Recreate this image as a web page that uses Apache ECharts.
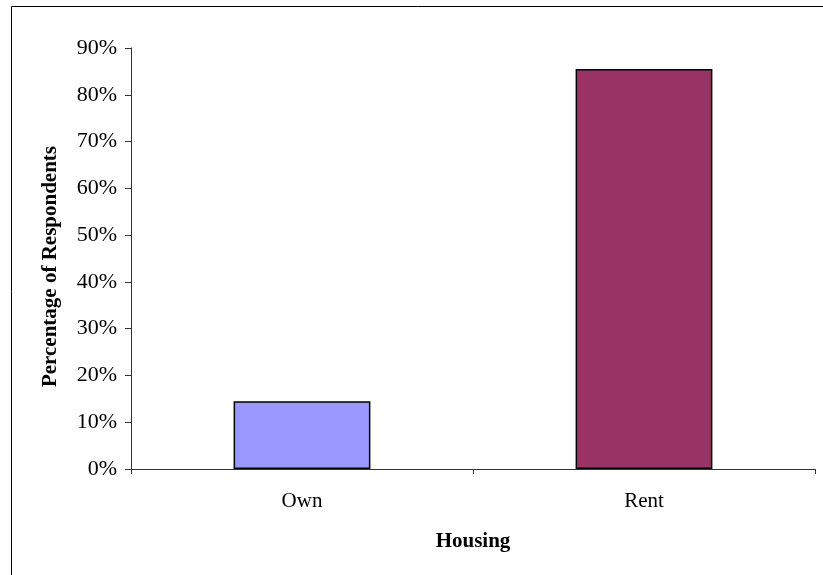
<!DOCTYPE html>
<html>
<head>
<meta charset="utf-8">
<script src="https://cdn.jsdelivr.net/npm/echarts@6/dist/echarts.min.js"></script>
<style>
html,body{margin:0;padding:0;background:#fff;}
#chart{width:823px;height:575px;}
</style>
</head>
<body>
<div id="chart"></div>
<script>
var categories = ['Own', 'Rent'];
var values = [14.5, 85.5];
var barColors = ['#9999FF', '#993366'];
var yTicks = { min: 0, max: 90, interval: 10 };
var xTitle = 'Housing';
var yTitle = 'Percentage of Respondents';

var font = '"Liberation Serif", "Times New Roman", serif';
var chart = echarts.init(document.getElementById('chart'), null, { renderer: 'canvas' });
chart.setOption({
  animation: false,
  backgroundColor: '#fff',
  grid: { left: 131, right: 8, top: 48, bottom: 106, containLabel: false },
  graphic: [{
    type: 'rect',
    shape: { x: 11.5, y: 6.5, width: 900, height: 700 },
    style: { fill: 'none', stroke: '#000', lineWidth: 1 },
    silent: true
  }],
  xAxis: {
    type: 'category',
    data: categories,
    name: xTitle,
    nameLocation: 'middle',
    nameGap: 62,
    nameTextStyle: { fontFamily: font, fontSize: 21, fontWeight: 'bold', color: '#000' },
    axisLine: { show: true, lineStyle: { color: '#333', width: 1 } },
    axisTick: { show: true, length: 5, lineStyle: { color: '#333' } },
    axisLabel: { fontFamily: font, fontSize: 21, color: '#000', margin: 22 },
    splitLine: { show: false }
  },
  yAxis: {
    type: 'value',
    min: yTicks.min,
    max: yTicks.max,
    interval: yTicks.interval,
    name: yTitle,
    nameLocation: 'middle',
    nameGap: 70,
    nameRotate: 90,
    nameTextStyle: { fontFamily: font, fontSize: 21, fontWeight: 'bold', color: '#000', padding: [0, 16, 0, 0] },
    axisLine: { show: true, lineStyle: { color: '#333', width: 1 } },
    axisTick: { show: true, length: 6, lineStyle: { color: '#333' } },
    axisLabel: { fontFamily: font, fontSize: 22, color: '#000', margin: 14, formatter: '{value}%' },
    splitLine: { show: false }
  },
  series: [{
    type: 'bar',
    data: values.map(function (v, i) {
      return { value: v, itemStyle: { color: barColors[i] } };
    }),
    barWidth: '40%',
    itemStyle: { borderColor: '#000', borderWidth: 1.5 }
  }]
});
</script>
</body>
</html>
